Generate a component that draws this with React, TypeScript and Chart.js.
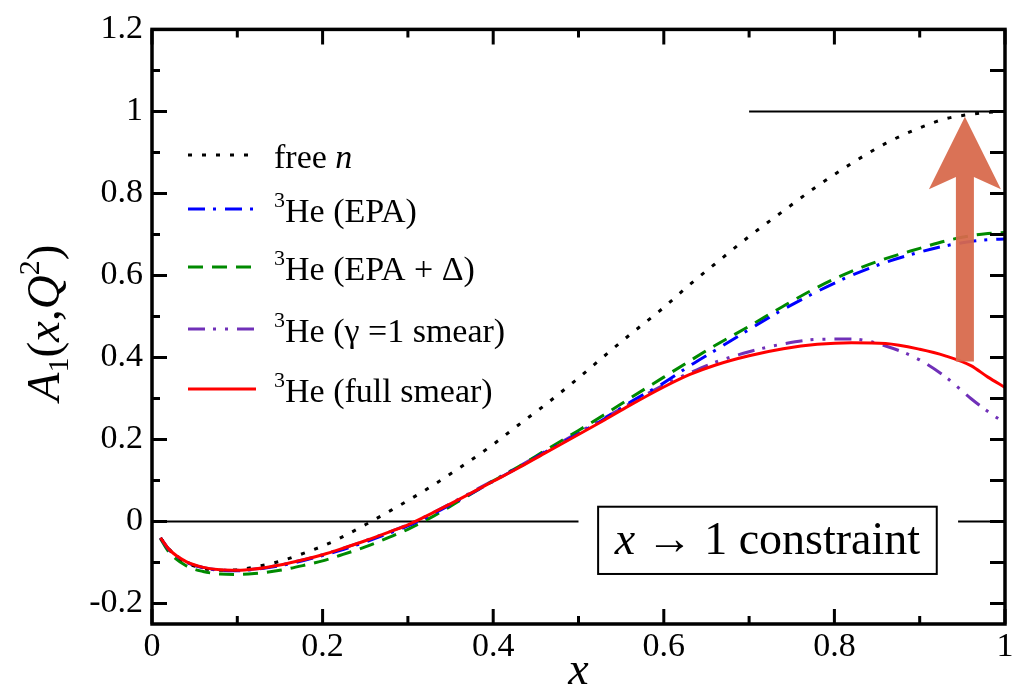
import React, { useEffect, useRef } from 'react';
import { Chart, registerables } from 'chart.js';

Chart.register(...registerables);

// ---------- data ----------
const X_GRID = [0.01, 0.02, 0.04, 0.06, 0.08, 0.10, 0.12, 0.15, 0.18, 0.20, 0.22, 0.25, 0.28, 0.30, 0.33, 0.36, 0.40, 0.43, 0.46, 0.50, 0.53, 0.56, 0.60, 0.63, 0.66, 0.70, 0.74, 0.78, 0.82, 0.86, 0.90, 0.93, 0.96, 0.98, 1.00];

const FREE_N = [-0.040, -0.068, -0.100, -0.114, -0.119, -0.118, -0.111, -0.097, -0.076, -0.060, -0.041, -0.008, 0.027, 0.051, 0.089, 0.130, 0.188, 0.236, 0.283, 0.350, 0.403, 0.455, 0.522, 0.577, 0.628, 0.695, 0.757, 0.818, 0.873, 0.922, 0.960, 0.982, 0.993, 0.998, 1.000];
const HE_EPA = [-0.040, -0.069, -0.099, -0.113, -0.119, -0.120, -0.117, -0.108, -0.094, -0.083, -0.071, -0.050, -0.027, -0.011, 0.019, 0.052, 0.098, 0.132, 0.168, 0.214, 0.250, 0.290, 0.338, 0.379, 0.417, 0.468, 0.517, 0.561, 0.600, 0.632, 0.657, 0.672, 0.683, 0.687, 0.689];
const HE_EPA_DELTA = [-0.042, -0.075, -0.108, -0.122, -0.128, -0.129, -0.127, -0.119, -0.106, -0.096, -0.083, -0.062, -0.037, -0.019, 0.013, 0.050, 0.099, 0.134, 0.172, 0.222, 0.260, 0.300, 0.352, 0.391, 0.429, 0.476, 0.525, 0.571, 0.610, 0.641, 0.666, 0.684, 0.697, 0.702, 0.705];
const HE_GAMMA1 = [-0.040, -0.068, -0.098, -0.112, -0.118, -0.119, -0.116, -0.106, -0.092, -0.081, -0.068, -0.047, -0.024, -0.008, 0.022, 0.055, 0.100, 0.134, 0.170, 0.217, 0.252, 0.287, 0.333, 0.362, 0.388, 0.414, 0.433, 0.444, 0.445, 0.428, 0.394, 0.353, 0.300, 0.268, 0.240];
const HE_FULL = [-0.040, -0.068, -0.098, -0.112, -0.118, -0.119, -0.116, -0.106, -0.092, -0.081, -0.068, -0.047, -0.024, -0.008, 0.022, 0.054, 0.098, 0.131, 0.166, 0.212, 0.247, 0.283, 0.328, 0.358, 0.381, 0.404, 0.421, 0.432, 0.436, 0.434, 0.420, 0.404, 0.380, 0.352, 0.327];

const X_TICKS = [0, 0.2, 0.4, 0.6, 0.8, 1];
const X_MINOR = [0.1, 0.3, 0.5, 0.7, 0.9];
const Y_TICKS = [-0.2, 0, 0.2, 0.4, 0.6, 0.8, 1, 1.2];
const Y_MINOR = [-0.1, 0.1, 0.3, 0.5, 0.7, 0.9, 1.1];
const X_MIN = 0, X_MAX = 1, Y_MIN = -0.25, Y_MAX = 1.2;

// reference lines: y = 0 (two pieces around the label box) and y = 1 near x -> 1
const ZERO_LINE_X = [[0, 0.5], [0.945, 1]];
const UNITY_LINE_X = [0.7, 1];

// annotation: label box (data coords) and arrow
const BOX_X = [0.523, 0.92];
const BOX_Y = [-0.128, 0.036];
const ARROW_X = 0.953;
const ARROW_Y = [0.39, 0.987];
const ARROW_HEAD_BASE = 0.81;
const ARROW_HEAD_NOTCH = 0.84;

const SERIF = '"Liberation Serif", "Times New Roman", serif';

type Part = { t: string; italic?: boolean; size?: number; dy?: number };

const SERIES = [
  { key: 'full', values: HE_FULL, color: '#ff0000', dash: [] as number[], label: [{ t: '3', size: 22, dy: -15 }, { t: 'He (full smear)' }] as Part[] },
  { key: 'free', values: FREE_N, color: '#000000', dash: [4, 10], label: [{ t: 'free ' }, { t: 'n', italic: true }] as Part[] },
  { key: 'epa', values: HE_EPA, color: '#0000ff', dash: [17, 8, 3, 9], label: [{ t: '3', size: 22, dy: -15 }, { t: 'He (EPA)' }] as Part[] },
  { key: 'epad', values: HE_EPA_DELTA, color: '#008a00', dash: [15, 9], label: [{ t: '3', size: 22, dy: -15 }, { t: 'He (EPA + \u0394)' }] as Part[] },
  { key: 'gamma', values: HE_GAMMA1, color: '#7030b8', dash: [17, 8, 3, 9, 3, 9], label: [{ t: '3', size: 22, dy: -15 }, { t: 'He (\u03b3 =1 smear)' }] as Part[] },
];
const LEGEND_ORDER = ['free', 'epa', 'epad', 'gamma', 'full'];
const LEGEND_LINE_Y = [155, 209, 267, 329, 389];

function drawRich(ctx: CanvasRenderingContext2D, parts: Part[], x: number, y: number, base: number, measureOnly = false) {
  let cx = x;
  for (const p of parts) {
    const size = p.size ?? base;
    ctx.font = `${p.italic ? 'italic ' : ''}${size}px ${SERIF}`;
    if (!measureOnly) ctx.fillText(p.t, cx, y + (p.dy ?? 0));
    cx += ctx.measureText(p.t).width;
  }
  return cx - x;
}

const overlayPlugin = {
  id: 'overlay',
  afterDatasetsDraw(chart: any) {
    const { ctx, scales } = chart;
    const xs = scales.x, ys = scales.y;
    ctx.save();
    // label box
    const bx0 = xs.getPixelForValue(BOX_X[0]);
    const bx1 = xs.getPixelForValue(BOX_X[1]);
    const by0 = ys.getPixelForValue(BOX_Y[1]);
    const by1 = ys.getPixelForValue(BOX_Y[0]);
    ctx.fillStyle = '#ffffff';
    ctx.fillRect(bx0, by0, bx1 - bx0, by1 - by0);
    ctx.strokeStyle = '#000';
    ctx.lineWidth = 2;
    ctx.strokeRect(bx0, by0, bx1 - bx0, by1 - by0);
    ctx.fillStyle = '#000';
    ctx.textBaseline = 'alphabetic';
    const boxParts: Part[] = [{ t: 'x', italic: true }, { t: ' \u2192 1 constraint' }];
    const w = drawRich(ctx, boxParts, 0, 0, 46, true);
    drawRich(ctx, boxParts, (bx0 + bx1) / 2 - w / 2, by0 + (by1 - by0) * 0.7, 46);

    // arrow
    const ax = xs.getPixelForValue(ARROW_X);
    const ay0 = ys.getPixelForValue(ARROW_Y[0]);
    const ay1 = ys.getPixelForValue(ARROW_Y[1]);
    const hb = ys.getPixelForValue(ARROW_HEAD_BASE);
    const hn = ys.getPixelForValue(ARROW_HEAD_NOTCH);
    const sw = 9, hw = 36;
    ctx.globalAlpha = 0.94;
    ctx.fillStyle = '#d8694b';
    ctx.beginPath();
    ctx.moveTo(ax - sw, ay0);
    ctx.lineTo(ax - sw, hn);
    ctx.lineTo(ax - hw, hb);
    ctx.lineTo(ax, ay1);
    ctx.lineTo(ax + hw, hb);
    ctx.lineTo(ax + sw, hn);
    ctx.lineTo(ax + sw, ay0);
    ctx.closePath();
    ctx.fill();
    ctx.restore();
  },
  afterDraw(chart: any) {
    const { ctx, chartArea: a, scales } = chart;
    const xs = scales.x, ys = scales.y;
    ctx.save();
    // frame
    ctx.strokeStyle = '#000';
    ctx.lineWidth = 3.5;
    ctx.strokeRect(a.left, a.top, a.right - a.left, a.bottom - a.top);
    // ticks
    ctx.lineWidth = 3;
    ctx.beginPath();
    const xt = (v: number, len: number) => {
      const p = xs.getPixelForValue(v);
      ctx.moveTo(p, a.bottom); ctx.lineTo(p, a.bottom - len);
      ctx.moveTo(p, a.top); ctx.lineTo(p, a.top + len);
    };
    X_TICKS.forEach(v => xt(v, 15));
    X_MINOR.forEach(v => xt(v, 8));
    const yt = (v: number, len: number) => {
      const p = ys.getPixelForValue(v);
      ctx.moveTo(a.left, p); ctx.lineTo(a.left + len, p);
      ctx.moveTo(a.right, p); ctx.lineTo(a.right - 15, p);
    };
    Y_TICKS.forEach(v => yt(v, 15));
    Y_MINOR.forEach(v => yt(v, 8));
    ctx.stroke();

    // legend
    ctx.fillStyle = '#000';
    ctx.textBaseline = 'alphabetic';
    LEGEND_ORDER.forEach((k, i) => {
      const s = SERIES.find(d => d.key === k)!;
      const ly = LEGEND_LINE_Y[i];
      ctx.save();
      ctx.strokeStyle = s.color;
      ctx.lineWidth = 3;
      ctx.setLineDash(s.dash);
      ctx.beginPath();
      ctx.moveTo(188, ly); ctx.lineTo(256, ly);
      ctx.stroke();
      ctx.restore();
      drawRich(ctx, s.label, 274, ly + 13, 34);
    });

    // y-axis title
    ctx.save();
    ctx.translate(59, 323);
    ctx.rotate(-Math.PI / 2);
    const yParts: Part[] = [
      { t: 'A', italic: true }, { t: '1', size: 30, dy: 9 }, { t: '(' }, { t: 'x', italic: true }, { t: ',' },
      { t: 'Q', italic: true }, { t: '2', size: 30, dy: -20 }, { t: ')' },
    ];
    const tw = drawRich(ctx, yParts, 0, 0, 47, true);
    drawRich(ctx, yParts, -tw / 2, 0, 47);
    ctx.restore();

    // x-axis title
    ctx.font = `italic 46px ${SERIF}`;
    ctx.textAlign = 'center';
    ctx.fillText('x', xs.getPixelForValue(0.5), 684);
    ctx.restore();
  },
};

const fmt = (v: number) => String(Number(v.toFixed(1)));

export default function App() {
  const ref = useRef<HTMLCanvasElement | null>(null);
  useEffect(() => {
    if (!ref.current) return;
    const lineDs = (xRange: number[], yv: number) => ({
      data: xRange.map(x => ({ x, y: yv })),
      borderColor: '#000',
      borderWidth: 2,
      pointRadius: 0,
      fill: false,
    });
    const datasets: any[] = [
      ...SERIES.map(s => ({
        label: s.key,
        data: X_GRID.map((x, i) => ({ x, y: s.values[i] })),
        borderColor: s.color,
        borderWidth: 3,
        borderDash: s.dash,
        borderCapStyle: 'butt',
        pointRadius: 0,
        fill: false,
        cubicInterpolationMode: 'monotone',
      })),
      ...ZERO_LINE_X.map(r => lineDs(r, 0)),
      lineDs(UNITY_LINE_X, 1),
    ];
    const chart = new Chart(ref.current, {
      type: 'line',
      data: { datasets },
      options: {
        animation: false,
        responsive: false,
        maintainAspectRatio: false,
        layout: { padding: { left: 0, right: 12, top: 24, bottom: 0 } },
        plugins: { legend: { display: false }, tooltip: { enabled: false } },
        scales: {
          x: {
            type: 'linear', min: X_MIN, max: X_MAX,
            grid: { display: false, drawTicks: false },
            border: { display: false },
            afterBuildTicks: (s: any) => { s.ticks = X_TICKS.map(v => ({ value: v })); },
            afterFit: (s: any) => { s.height = 65; },
            ticks: { color: '#000', font: { family: SERIF, size: 34 }, padding: 3, maxRotation: 0, autoSkip: false, callback: (v: any) => fmt(Number(v)) },
          },
          y: {
            type: 'linear', min: Y_MIN, max: Y_MAX,
            grid: { display: false, drawTicks: false },
            border: { display: false },
            afterBuildTicks: (s: any) => { s.ticks = Y_TICKS.map(v => ({ value: v })); },
            afterFit: (s: any) => { s.width = 152; },
            ticks: { color: '#000', font: { family: SERIF, size: 34 }, padding: 9, autoSkip: false, callback: (v: any) => fmt(Number(v)) },
          },
        },
      },
      plugins: [overlayPlugin],
    } as any);
    return () => chart.destroy();
  }, []);
  return (
    <div style={{ position: 'absolute', left: 0, top: 0, width: 1017, height: 689, background: '#fff' }}>
      <canvas ref={ref} width={1017} height={689} style={{ width: 1017, height: 689, display: 'block' }} />
    </div>
  );
}
